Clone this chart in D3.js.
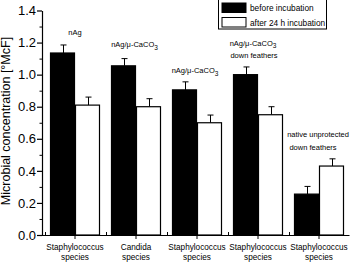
<!DOCTYPE html>
<html>
<head>
<meta charset="utf-8">
<script src="https://cdn.jsdelivr.net/npm/d3@7"></script>
<style>
  body { margin: 0; background: #fff; }
  text { font-family: "Liberation Sans", Arial, sans-serif; fill: #000; }
</style>
</head>
<body>
<div id="chart"></div>
<script>
// data
const groups = ["g1", "g2", "g3", "g4", "g5"];
const categoryLine1 = ["Staphylococcus", "Candida", "Staphylococcus", "Staphylococcus", "Staphylococcus"];
const categoryLine2 = ["species", "species", "species", "species", "species"];
const beforeValues = [1.135, 1.055, 0.905, 1.0, 0.255];
const beforeErrors = [0.05, 0.045, 0.05, 0.048, 0.048];
const afterValues = [0.81, 0.80, 0.70, 0.75, 0.43];
const afterErrors = [0.05, 0.05, 0.048, 0.05, 0.045];
const seriesNames = ["before incubation", "after 24 h incubation"];
const yTicks = [0, 0.2, 0.4, 0.6, 0.8, 1.0, 1.2, 1.4];
const yMinorTicks = [0.1, 0.3, 0.5, 0.7, 0.9, 1.1, 1.3];

const width = 350, height = 262;
const margin = { top: 10.5, bottom: 27, left: 42, right: 0 };

const svg = d3.select("#chart").append("svg")
  .attr("width", width)
  .attr("height", height);

const x0 = d3.scaleBand()
  .domain(groups)
  .range([44.5, 349.5])
  .padding(0);

const x1 = d3.scaleBand()
  .domain(["before", "after"])
  .range([0, x0.bandwidth()])
  .paddingInner(0)
  .paddingOuter(0.22);

const y = d3.scaleLinear()
  .domain([0, 1.4])
  .range([height - margin.bottom - 0.0 + 0, margin.top]);
y.range([235, 10.5]);

const rows = groups.map((g, i) => ({
  g,
  i,
  bars: [
    { key: "before", v: beforeValues[i], e: beforeErrors[i], fill: "#000" },
    { key: "after", v: afterValues[i], e: afterErrors[i], fill: "#fff" }
  ]
}));

// error bars (drawn under bars)
const err = svg.append("g").attr("stroke", "#000").attr("stroke-width", 1);
rows.forEach(r => {
  r.bars.forEach(b => {
    const cx = Math.round(x0(r.g) + x1(b.key) + x1.bandwidth() / 2) + 0.5;
    err.append("line")
      .attr("x1", cx).attr("x2", cx)
      .attr("y1", y(b.v)).attr("y2", y(b.v + b.e));
    err.append("line")
      .attr("x1", cx - 3).attr("x2", cx + 3)
      .attr("y1", y(b.v + b.e)).attr("y2", y(b.v + b.e));
  });
});

// bars
svg.append("g")
  .selectAll("g")
  .data(rows)
  .join("g")
    .attr("transform", d => `translate(${x0(d.g)},0)`)
  .selectAll("rect")
  .data(d => d.bars)
  .join("rect")
    .attr("x", d => x1(d.key) + 0.5)
    .attr("y", d => y(d.v))
    .attr("width", x1.bandwidth() - 1)
    .attr("height", d => y(0) - y(d.v))
    .attr("fill", d => d.fill)
    .attr("stroke", "#000")
    .attr("stroke-width", 1.2);

// y axis
const yAxis = svg.append("g")
  .attr("transform", `translate(${margin.left},0)`)
  .call(d3.axisLeft(y).tickValues(yTicks).tickFormat(d3.format(".1f")).tickSize(5).tickSizeOuter(0));
yAxis.selectAll("text").attr("font-size", 13).attr("x", -6);
yAxis.selectAll("line, path").attr("stroke-width", 1.2);

svg.append("g")
  .attr("transform", `translate(${margin.left},0)`)
  .call(d3.axisLeft(y).tickValues(yMinorTicks).tickFormat("").tickSize(2.5))
  .call(g => g.select(".domain").remove());

// x axis
const xAxis = svg.append("g")
  .attr("transform", "translate(0,235)")
  .call(d3.axisBottom(x0).tickSize(4).tickSizeOuter(0).tickFormat(""));
xAxis.select(".domain").attr("d", "M42,0.5H349.5").attr("stroke-width", 1.2);

// minor ticks at group boundaries, pointing up
const bounds = groups.map(g => x0(g)).concat([x0.range()[1]]);
svg.append("g")
  .selectAll("line")
  .data(bounds)
  .join("line")
    .attr("x1", d => Math.round(d) + 0.5)
    .attr("x2", d => Math.round(d) + 0.5)
    .attr("y1", 235)
    .attr("y2", 232)
    .attr("stroke", "#000");

// category labels
const cat = svg.append("g").attr("font-size", 8.2).attr("text-anchor", "middle");
groups.forEach((g, i) => {
  const cx = x0(g) + x0.bandwidth() / 2;
  cat.append("text").attr("x", cx).attr("y", 250).text(categoryLine1[i]);
  cat.append("text").attr("x", cx).attr("y", 260).text(categoryLine2[i]);
});

// y label
svg.append("text")
  .attr("transform", "translate(10,121) rotate(-90)")
  .attr("text-anchor", "middle")
  .attr("font-size", 12.5)
  .text("Microbial concentration [°McF]");

// annotations above groups
const ann = svg.append("g").attr("font-size", 7.5).attr("text-anchor", "middle");
function caco3(t) {
  t.append("tspan").text("nAg/μ-CaCO");
  t.append("tspan").attr("dy", 2.5).attr("font-size", 6.5).text("3");
}
const gc = g => x0(g) + x0.bandwidth() / 2;
ann.append("text").attr("x", gc("g1")).attr("y", 35).text("nAg");
ann.append("text").attr("x", gc("g2") - 1.5).attr("y", 47).call(caco3);
ann.append("text").attr("x", gc("g3") - 2).attr("y", 73).call(caco3);
ann.append("text").attr("x", gc("g4") - 5).attr("y", 45.5).call(caco3);
ann.append("text").attr("x", gc("g4") - 4).attr("y", 57.5).text("down feathers");
ann.append("text").attr("x", gc("g5") - 1).attr("y", 137).text("native unprotected");
ann.append("text").attr("x", gc("g5") - 6).attr("y", 149.5).text("down feathers");

// legend
const lg = svg.append("g");
lg.append("rect")
  .attr("x", 218.5).attr("y", -0.5).attr("width", 108).attr("height", 29.5)
  .attr("fill", "#fff").attr("stroke", "#000");
seriesNames.forEach((s, i) => {
  lg.append("rect")
    .attr("x", 222).attr("y", 3 + i * 14.5).attr("width", 24).attr("height", 9.5)
    .attr("fill", i === 0 ? "#000" : "#fff").attr("stroke", "#000");
  lg.append("text")
    .attr("x", 250).attr("y", 11 + i * 14.5)
    .attr("font-size", 8.3)
    .text(s);
});
</script>
</body>
</html>
